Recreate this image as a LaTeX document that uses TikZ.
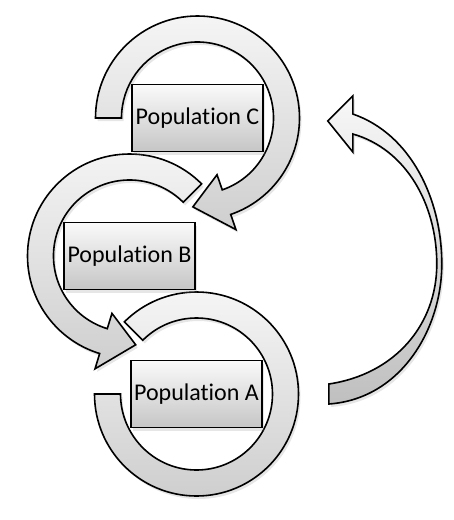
\documentclass[tikz,border=0pt]{standalone}
\usepackage{fontspec}
\setmainfont{Carlito}[Ligatures=NoCommon]
\usetikzlibrary{calc,backgrounds,shadows}

\begin{document}
\begin{tikzpicture}[x=1pt, y=1pt,
	popbox/.style={draw, line width=1.6pt, top color=gray!4, bottom color=gray!45,
		minimum width=131pt, minimum height=67pt, inner sep=0pt,
		font=\fontsize{24}{27}\selectfont,
		drop shadow={opacity=0.2, shadow xshift=2pt, shadow yshift=-3pt}},
	ring/.style={draw, line width=1.6pt, top color=gray!8, bottom color=gray!38,
		drop shadow={opacity=0.2, shadow xshift=2pt, shadow yshift=-3pt}}]
	\useasboundingbox (0,0) rectangle (453,-520);
	
	% Cajas de las poblaciones
	\foreach \name/\pos/\txt in {
		popC/{(197.5,-118)}/Population C,
		popB/{(129.5,-256)}/Population B,
		popA/{(196.5,-394)}/Population A} {
		\node[popbox] (\name) at \pos {\txt};
	}
	
	% Anillos con flecha alrededor de C y B
	\begin{scope}[on background layer]
		\foreach \ctr/\from/\base/\tip in {
			popC/180/-71/-93,
			popB/45/253/274} {
			\draw[ring] ($(\ctr)+(\from:102)$) arc[start angle=\from, end angle=\base, radius=102]
				-- ($(\ctr)+(\base:118)$) -- ($(\ctr)+(\tip:89)$) -- ($(\ctr)+(\base:60)$)
				-- ($(\ctr)+(\base:76)$) arc[start angle=\base, end angle=\from, radius=76] -- cycle;
		}
		% Anillo abierto alrededor de A
		\draw[ring] ($(popA)+(180:102)$) arc[start angle=180, end angle=495, radius=102]
			-- ($(popA)+(135:76)$) arc[start angle=135, end angle=-180, radius=76] -- cycle;
	\end{scope}
	
	% Flecha curva de A hacia C
	\draw[ring, top color=gray!6, bottom color=gray!50]
		($(popA.east)+(66,-10)$) .. controls +(72,5) and +(0,-65) .. ++(113,140)
		.. controls +(0,65) and +(58,-20) .. ++(-89,150) -- ++(0,18)
		-- ++(-25,-25) -- ++(25,-31) -- ++(0,18)
		.. controls +(53,-15) and +(0,60) .. ++(84,-130)
		.. controls +(0,-60) and +(67,10) .. ++(-108,-120) -- cycle;
\end{tikzpicture}
\end{document}
